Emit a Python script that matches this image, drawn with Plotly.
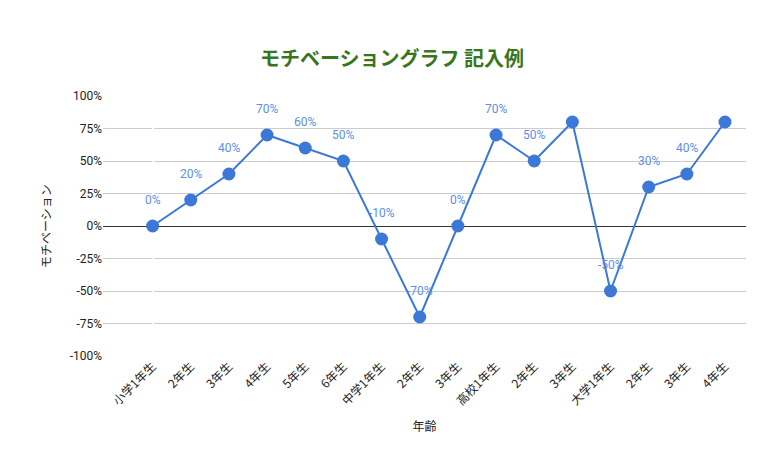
import plotly.graph_objects as go

categories = ["小学1年生","2年生","3年生","4年生","5年生","6年生","中学1年生","2年生","3年生",
              "高校1年生","2年生","3年生","大学1年生","2年生","3年生","4年生"]
values = [0, 20, 40, 70, 60, 50, -10, -70, 0, 70, 50, 80, -50, 30, 40, 80]
labels = [f"{v}%" if v != 80 else "" for v in values]
yticks = [-100, -75, -50, -25, 0, 25, 50, 75, 100]

x = list(range(len(categories)))
fig = go.Figure(go.Scatter(
    x=x, y=values, mode="lines+markers", line=dict(color="#3c78d8", width=2),
    marker=dict(color="#3c78d8", size=13), cliponaxis=False))
for xi, v, t in zip(x, values, labels):
    if t:
        fig.add_annotation(x=xi, y=v, text=t, showarrow=False, yshift=26,
                           font=dict(color="#5b8fe6", size=12, family="Roboto"))
fig.update_layout(
    width=768, height=462, margin=dict(l=95, r=30, t=88, b=114, autoexpand=False),
    paper_bgcolor="white", plot_bgcolor="white", showlegend=False,
    font=dict(family="Roboto, Noto Sans CJK JP", color="#222"),
    title=dict(text="<b>モチベーショングラフ 記入例</b>", x=0.5, xanchor="center", y=0.89,
               yanchor="middle", font=dict(size=20, color="#38761d", family="Noto Sans CJK JP")),
    xaxis=dict(tickvals=x, ticktext=categories, range=[-1.3, 15.55], tickangle=-45,
               showgrid=False, automargin=False, title=dict(text="年齢", font=dict(size=12)),
               tickfont=dict(size=12, family="Noto Sans CJK JP")),
    yaxis=dict(range=[-100, 100], tickvals=yticks, ticktext=[f"{v}%" for v in yticks],
               gridcolor="#cccccc", zeroline=True, zerolinecolor="#333", zerolinewidth=1,
               automargin=False, title=dict(text="モチベーション", font=dict(size=12, family="Noto Sans CJK JP")),
               tickfont=dict(size=12)),
)
fig.write_html("out.html")
